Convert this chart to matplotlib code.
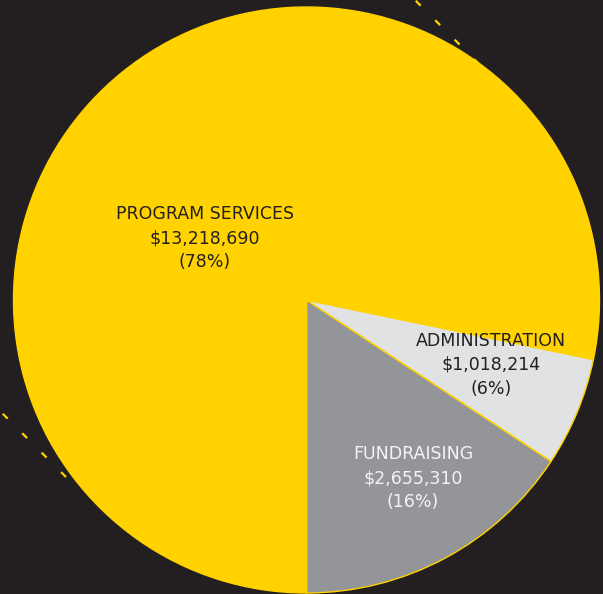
import numpy as np
import matplotlib
matplotlib.use("Agg")
import matplotlib.pyplot as plt

# Spending breakdown
categories = ["FUNDRAISING", "ADMINISTRATION", "PROGRAM SERVICES"]
amounts = [2655310, 1018214, 13218690]
colors = ["#939598", "#E1E2E4", "#FFD200"]
text_colors = ["#F4F4F4", "#231F20", "#231F20"]

BG = "#231F20"
YELLOW = "#FFD200"

plt.rcParams['font.family'] = ['DejaVu Sans']
plt.rcParams['lines.scale_dashes'] = False

fig = plt.figure(figsize=(6.03, 5.94), dpi=100, facecolor=BG)
ax = fig.add_axes([0, 0, 1, 1])
ax.set_facecolor(BG)

# pixel-like coordinates, y goes down
cx, cy, r = 306.5, 300.0, 293.0
ax.pie(amounts, colors=colors, center=(cx, cy), radius=r,
       startangle=90, counterclock=False,
       wedgeprops=dict(edgecolor=YELLOW, linewidth=1.0))

ax.set_xlim(0, 603)
ax.set_ylim(594, 0)
ax.set_aspect('equal')
ax.axis('off')

# decorative dashed lines
for x0, y0 in [(479, 64), (66, 477)]:
    ax.plot([x0, x0 - 90], [y0, y0 - 90], color=YELLOW, lw=1.6,
            linestyle=(0, (5.0, 14.8)), solid_capstyle='butt', zorder=0)

# labels
total = sum(amounts)
label_pos = [(413, 455), (491, 342), (205, 215)]
for name, amt, tc, (lx, ly) in zip(categories, amounts, text_colors, label_pos):
    pct = round(100 * amt / total)
    txt = f"{name}\n${amt:,}\n({pct}%)"
    ax.text(lx, ly + 23, txt, ha='center', va='center', color=tc,
            fontsize=12.5, linespacing=1.42)

fig.savefig("out.png", dpi=100, facecolor=BG)
